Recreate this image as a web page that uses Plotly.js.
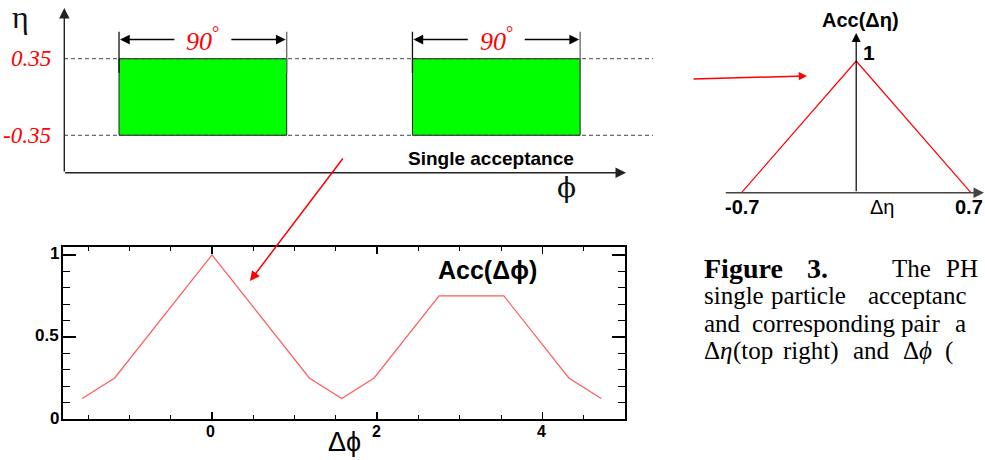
<!DOCTYPE html>
<html>
<head>
<meta charset="utf-8">
<script src="https://cdn.plot.ly/plotly-3.0.1.min.js"></script>
<style>html,body{margin:0;padding:0;background:#fff;overflow:hidden}#chart{width:985px;height:460px}</style>
</head>
<body>
<div id="chart"></div>
<script>
// ---------------- data ----------------
// single-particle acceptance (top left): two 90-degree arms in phi, |eta| < 0.35
const armPhiLow  = [-33.75, 123.75];
const armPhiHigh = [56.25, 213.75];
const etaEdges   = [-0.35, 0.35];
const etaEdgeLabels = ['-0.35', '0.35'];
const armWidthLabel = '90';

// pair acceptance in delta-eta (top right)
const dEta    = [-0.7, 0, 0.7];
const accDEta = [0, 1, 0];
const dEtaTickLabels = ['-0.7', '0.7'];

// pair acceptance in delta-phi (bottom left)
const dPhi    = [-1.571, -1.178, 0, 1.178, 1.571, 1.963, 2.749, 3.534, 4.320, 4.712];
const accDPhi = [0.125, 0.25, 1.0, 0.25, 0.125, 0.25, 0.75, 0.75, 0.25, 0.125];
const dPhiTickVals = [0, 2, 4];
const dPhiTickText = ['0', '2', '4'];
const accTickVals = [0, 0.5, 1];
const accTickText = ['0', '0.5', '1'];

// caption words as visible in the figure (cut by the page edge)
const captionWords = [
  ['<b>Figure</b>', '<b>3.</b>', 'The', 'PH'],
  ['single', 'particle', 'acceptanc'],
  ['and', 'corresponding', 'pair', 'a'],
  ['Δ<i>η</i>', '(top', 'right)', 'and', 'Δ<i>ϕ</i>', '(']
];

// ---------------- layout helpers ----------------
const W = 985, H = 460;
// schematic scale (pixels)
const phiZeroPx = 181.9, pxPerDeg = 1.863, etaZeroPy = 97, pxPerEta = 109.4;
// delta-eta sketch scale (pixels)
const dEtaZeroPx = 856.2, pxPerDEta = 163.8, accZeroPy = 192.7, pxPerAcc = 131.7;
// caption word positions (pixels)
const capWordX = [
  [702, 805, 890, 944],
  [702, 769, 866],
  [702, 750, 899, 953],
  [702, 731, 781, 851, 901, 943]
];
const capY = [268, 295.5, 323, 350.5];

const sans = 'Liberation Sans, Arial, DejaVu Sans, sans-serif';
const serif = 'Liberation Serif, Times New Roman, DejaVu Serif, serif';
const symb = 'DejaVu Serif, Liberation Serif, serif';

const traces = [];
// arms (green rectangles)
armPhiLow.forEach((lo, i) => {
  const hi = armPhiHigh[i];
  traces.push({
    type: 'scatter', mode: 'lines', xaxis: 'x', yaxis: 'y',
    x: [lo, hi, hi, lo, lo],
    y: [etaEdges[0], etaEdges[0], etaEdges[1], etaEdges[1], etaEdges[0]],
    fill: 'toself', fillcolor: '#00ff00',
    line: {color: '#222', width: 1}, hoverinfo: 'skip', showlegend: false
  });
});
// delta-eta triangle
traces.push({
  type: 'scatter', mode: 'lines', xaxis: 'x3', yaxis: 'y3',
  x: dEta, y: accDEta, line: {color: '#ff0000', width: 1.2},
  hoverinfo: 'skip', showlegend: false
});
// delta-phi acceptance
traces.push({
  type: 'scatter', mode: 'lines', xaxis: 'x2', yaxis: 'y2',
  x: dPhi, y: accDPhi, line: {color: '#ff5a5a', width: 1.2},
  hoverinfo: 'skip', showlegend: false
});
// helper pixel axes
traces.push({type: 'scatter', mode: 'markers', xaxis: 'x4', yaxis: 'y4', x: [], y: [], showlegend: false});

const hidden = {visible: false, fixedrange: true, showgrid: false, zeroline: false};

const shapes = [];
// dashed eta-edge lines
etaEdges.forEach(e => {
  shapes.push({type: 'line', xref: 'x', yref: 'y',
    x0: (64 - phiZeroPx) / pxPerDeg, x1: (653 - phiZeroPx) / pxPerDeg, y0: e, y1: e,
    line: {color: '#444', width: 1, dash: '4px,3px'}, layer: 'above'});
});
// 90-degree dimension markers
const markTop = (etaZeroPy - 31.7) / pxPerEta, markBot = (etaZeroPy - 73) / pxPerEta;
armPhiLow.forEach((lo, i) => {
  [lo, armPhiHigh[i]].forEach((p, k) => {
    shapes.push({type: 'line', xref: 'x', yref: 'y', x0: p, x1: p, y0: markTop, y1: markBot,
      line: {color: k === 0 ? '#111' : '#666', width: 1.3}, layer: 'above'});
  });
});

const annotations = [];
function arrow(xref, yref, x, y, ax, ay, color, width, size) {
  annotations.push({xref: xref, yref: yref, axref: xref, ayref: yref, x: x, y: y, ax: ax, ay: ay,
    text: '', showarrow: true, arrowhead: 2, arrowsize: size, arrowwidth: width, arrowcolor: color,
    standoff: 0, startstandoff: 0});
}
function label(xref, yref, x, y, text, font, xanchor, yanchor, extra) {
  annotations.push(Object.assign({xref: xref, yref: yref, x: x, y: y, text: text, showarrow: false,
    font: font, xanchor: xanchor || 'center', yanchor: yanchor || 'middle'}, extra || {}));
}

// schematic axes
arrow('x4', 'y4', 64.3, 8, 64.3, 173, '#222', 1.4, 1.5);
arrow('x4', 'y4', 626, 172.7, 63.6, 172.7, '#222', 1.4, 1.5);
label('x4', 'y4', 20, 17, 'η', {family: serif, size: 32, color: '#111'});
label('x4', 'y4', 566.5, 187, 'ϕ', {family: symb, size: 28, color: '#111'});
label('x4', 'y4', 491, 158, '<b>Single acceptance</b>', {family: sans, size: 19, color: '#000'});
etaEdges.forEach((e, i) => {
  label('x4', 'y', 53, e, '<i>' + etaEdgeLabels[i] + '</i>', {family: serif, size: 23, color: '#ff0000'}, 'right');
});
// 90 degree arrows
const arrowEta = (etaZeroPy - 39.5) / pxPerEta;
const halfGap = 27 / pxPerDeg;
armPhiLow.forEach((lo, i) => {
  const hi = armPhiHigh[i];
  const c = (lo + hi) / 2;
  arrow('x', 'y', lo + 1 / pxPerDeg, arrowEta, c - halfGap, arrowEta, '#000', 1.3, 1.5);
  arrow('x', 'y', hi - 1 / pxPerDeg, arrowEta, c + halfGap, arrowEta, '#000', 1.3, 1.5);
  label('x', 'y', c, arrowEta, '<i>' + armWidthLabel + '</i><sup>°</sup>', {family: serif, size: 26, color: '#ff0000'});
});

// red pointer arrows
arrow('x4', 'y4', 250, 281, 344, 157, '#ff0000', 1.5, 1.3);
arrow('x4', 'y4', 807, 76, 692, 79, '#ff0000', 1.5, 1.1);

// delta-eta sketch axes and labels
arrow('x3', 'y3', 0, (accZeroPy - 33) / pxPerAcc, 0, 0, '#000', 1.2, 1.5);
arrow('x3', 'y3', (984 - dEtaZeroPx) / pxPerDEta, 0, (724.3 - dEtaZeroPx) / pxPerDEta, 0, '#444', 1.4, 1.5);
label('x3', 'y3', 0, 1, '<b>1</b>', {family: sans, size: 21, color: '#000'}, 'center', 'middle', {xshift: 13, yshift: 9});
[dEta[0], dEta[2]].forEach((v, i) => {
  label('x3', 'y3', v, 0, '<b>' + dEtaTickLabels[i] + '</b>', {family: sans, size: 20, color: '#000'},
    i === 1 ? 'right' : 'center', 'middle', i === 1 ? {xshift: 14, yshift: -14} : {yshift: -14});
});
label('x4', 'y4', 882, 207, 'Δη', {family: sans, size: 20, color: '#000'});
label('x4', 'y4', 860, 20, '<b>Acc(Δη)</b>', {family: sans, size: 20, color: '#000'});

// delta-phi chart: tick labels and titles
dPhiTickVals.forEach((v, i) => {
  label('x2', 'y2 domain', v, 0, '<b>' + dPhiTickText[i] + '</b>', {family: sans, size: 16, color: '#000'},
    'center', 'top', {xshift: -1, yshift: -2});
});
accTickVals.forEach((v, i) => {
  label('x2 domain', 'y2', 0, v, '<b>' + accTickText[i] + '</b>', {family: sans, size: 17, color: '#000'},
    'right', 'middle', {xshift: -2, yshift: 1});
});
label('x2 domain', 'y4', 0.5, 442, 'Δϕ', {family: sans, size: 27, color: '#000'});
label('x4', 'y4', 487, 270, '<b>Acc(Δϕ)</b>', {family: sans, size: 25, color: '#000'});

// caption, word by word (justified text)
captionWords.forEach((words, li) => {
  words.forEach((w, wi) => {
    const bold = w.indexOf('<b>') === 0;
    label('x4', 'y4', capWordX[li][wi], capY[li], w, {family: serif, size: bold ? 28 : 25, color: '#000'}, 'left');
  });
});

const layout = {
  width: W, height: H,
  margin: {l: 0, r: 0, t: 0, b: 0, pad: 0},
  paper_bgcolor: '#fff', plot_bgcolor: 'rgba(0,0,0,0)',
  showlegend: false,
  xaxis: Object.assign({domain: [0, 1], anchor: 'y', range: [(0 - phiZeroPx) / pxPerDeg, (W - phiZeroPx) / pxPerDeg]}, hidden),
  yaxis: Object.assign({domain: [0, 1], anchor: 'x', range: [(etaZeroPy - H) / pxPerEta, etaZeroPy / pxPerEta]}, hidden),
  xaxis3: Object.assign({domain: [0, 1], anchor: 'y3', range: [(0 - dEtaZeroPx) / pxPerDEta, (W - dEtaZeroPx) / pxPerDEta]}, hidden),
  yaxis3: Object.assign({domain: [0, 1], anchor: 'x3', range: [(accZeroPy - H) / pxPerAcc, accZeroPy / pxPerAcc]}, hidden),
  xaxis4: Object.assign({domain: [0, 1], anchor: 'y4', range: [0, W]}, hidden),
  yaxis4: Object.assign({domain: [0, 1], anchor: 'x4', range: [H, 0]}, hidden),
  xaxis2: {
    domain: [63.3 / W, 625 / W], anchor: 'y2', range: [-1.8, 5.0], fixedrange: true,
    showline: true, linecolor: '#000', linewidth: 2, mirror: 'allticks',
    ticks: 'inside', ticklen: 7, tickwidth: 1.5, tickcolor: '#000',
    tickvals: dPhiTickVals, showticklabels: false,
    minor: {dtick: 0.5, tick0: 0, ticks: 'inside', ticklen: 4, tickwidth: 1, tickcolor: '#000', showgrid: false},
    showgrid: false, zeroline: false
  },
  yaxis2: {
    domain: [(H - 419) / H, (H - 246.7) / H], anchor: 'x2', range: [0, 1.05], fixedrange: true,
    showline: true, linecolor: '#000', linewidth: 2, mirror: 'allticks',
    ticks: 'inside', ticklen: 13, tickwidth: 1.5, tickcolor: '#000',
    tickvals: accTickVals, showticklabels: false,
    minor: {dtick: 0.1, tick0: 0, ticks: 'inside', ticklen: 7, tickwidth: 1, tickcolor: '#000', showgrid: false},
    showgrid: false, zeroline: false
  },
  shapes: shapes,
  annotations: annotations
};

Plotly.newPlot('chart', traces, layout, {displayModeBar: false, staticPlot: true});
</script>
</body>
</html>
